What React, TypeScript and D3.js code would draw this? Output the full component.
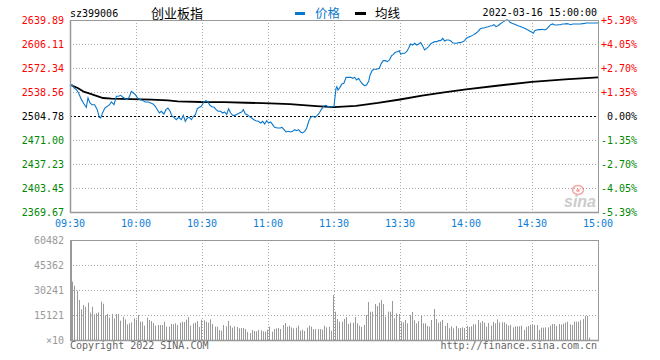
import React from 'react';
import * as d3 from 'd3';

const stockCode = 'sz399006';
const stockName = '创业板指';
const legendPrice = '价格';
const legendAvg = '均线';
const dateText = '2022-03-16 15:00:00';
const copyrightText = 'Copyright 2022 SINA.COM';
const urlText = 'http://finance.sina.com.cn';

const priceMin = 2369.67;
const priceMax = 2639.89;
const priceTickLabels = ['2639.89', '2606.11', '2572.34', '2538.56', '2504.78', '2471.00', '2437.23', '2403.45', '2369.67'];
const pctTickLabels = ['+5.39%', '+4.05%', '+2.70%', '+1.35%', '0.00%', '-1.35%', '-2.70%', '-4.05%', '-5.39%'];
const prevClose = 2504.78;

const timeTickLabels = ['09:30', '10:00', '10:30', '11:00', '11:30', '13:30', '14:00', '14:30', '15:00'];
const timeTickMinutes = [0, 30, 60, 90, 120, 150, 180, 210, 240];

const volMax = 60482;
const volTickLabels = ['60482', '45362', '30241', '15121', '×10'];

// [minute offset from 09:30 on the trading clock, price]
const pricePoints: [number, number][] = [
  [0, 2546.5], [0.9, 2548.9], [1.8, 2544.2], [2.9, 2541.8], [3.9, 2537.2], [5.2, 2527.8], [6.4, 2521.7], [7.4, 2517.0],
  [8.2, 2530.1], [9.1, 2523.1], [10.0, 2520.7], [11.2, 2520.7], [12.4, 2513.7], [13.3, 2502.9], [13.9, 2502.0], [14.8, 2509.0],
  [15.8, 2516.0], [17.0, 2518.4], [18.0, 2520.7], [18.8, 2524.5], [20.0, 2520.7], [21.1, 2532.5], [22.1, 2532.5], [23.0, 2533.9],
  [24.1, 2531.1], [25.2, 2529.2], [26.1, 2527.8], [27.1, 2532.5], [27.9, 2539.5], [28.8, 2537.2], [29.7, 2534.8], [30.9, 2529.2],
  [32.1, 2527.8], [33.2, 2526.4], [34.2, 2524.5], [35.5, 2524.5], [36.7, 2523.1], [37.7, 2521.7], [38.8, 2518.4], [39.7, 2513.7],
  [40.6, 2509.0], [41.5, 2511.4], [42.7, 2507.6], [43.6, 2513.7], [44.5, 2516.0], [45.5, 2511.4], [46.4, 2504.3], [47.3, 2502.9],
  [48.3, 2499.6], [49.4, 2502.9], [50.6, 2499.6], [51.5, 2505.7], [52.4, 2497.3], [53.3, 2502.0], [54.2, 2502.9], [55.2, 2499.6],
  [56.1, 2504.3], [57.0, 2506.7], [57.9, 2515.1], [58.8, 2517.0], [59.7, 2518.4], [60.9, 2524.5], [61.8, 2526.4], [62.7, 2524.5],
  [63.6, 2519.8], [64.5, 2517.9], [65.5, 2517.0], [66.4, 2513.7], [67.4, 2511.4], [68.5, 2511.4], [69.4, 2509.0], [70.3, 2510.4],
  [71.2, 2506.7], [72.1, 2515.1], [73.0, 2509.0], [74.0, 2505.7], [75.0, 2505.7], [76.1, 2507.6], [77.0, 2509.0], [78.0, 2510.4],
  [78.8, 2513.7], [79.7, 2507.6], [80.6, 2506.7], [81.5, 2504.3], [82.6, 2502.0], [83.6, 2499.6], [84.5, 2498.2], [85.6, 2497.3],
  [86.7, 2494.9], [87.6, 2497.3], [88.5, 2493.5], [89.4, 2498.2], [90.3, 2494.9], [91.2, 2496.3], [92.1, 2492.6], [93.0, 2488.8],
  [94.3, 2487.9], [95.5, 2487.9], [96.4, 2488.8], [97.3, 2485.5], [98.2, 2482.3], [99.2, 2483.2], [100.3, 2482.3], [101.2, 2483.2],
  [102.1, 2485.5], [103.0, 2484.1], [103.9, 2485.5], [104.8, 2482.3], [105.7, 2480.9], [106.7, 2483.2], [107.6, 2487.9], [108.5, 2497.3],
  [109.4, 2502.9], [110.3, 2504.3], [111.4, 2502.9], [112.4, 2505.7], [113.3, 2509.0], [114.2, 2513.7], [115.2, 2518.4], [116.1, 2519.8],
  [117.0, 2518.4], [118.2, 2517.9], [119.1, 2517.9], [120, 2518.4],
  [120.9, 2543.7], [121.3, 2546.1], [121.8, 2541.4], [122.7, 2545.1], [123.6, 2549.8], [124.5, 2550.8], [125.5, 2559.2], [126.5, 2559.2],
  [127.6, 2559.2], [128.5, 2557.8], [129.4, 2559.2], [130.3, 2555.4], [131.2, 2557.8], [132.1, 2553.1], [133.0, 2549.8], [133.9, 2547.5],
  [134.8, 2548.4], [135.8, 2554.1], [136.4, 2562.5], [137.3, 2568.6], [138.2, 2570.5], [139.4, 2570.5], [140.6, 2571.9], [141.5, 2578.9],
  [142.4, 2582.7], [143.3, 2582.7], [144.2, 2581.3], [145.2, 2583.6], [146.1, 2589.3], [147.0, 2591.6], [147.9, 2594.4], [148.8, 2595.3],
  [149.7, 2596.7], [150.3, 2591.6], [151.2, 2593.0], [152.1, 2593.0], [153.0, 2595.3], [153.9, 2600.0], [154.8, 2606.1], [155.8, 2604.7],
  [156.7, 2607.1], [157.6, 2604.7], [158.5, 2606.1], [159.4, 2608.0], [160.3, 2603.3], [161.2, 2597.7], [162.1, 2600.0], [163.0, 2602.4],
  [163.9, 2606.1], [164.8, 2608.0], [165.8, 2609.4], [166.7, 2609.4], [167.6, 2610.8], [168.5, 2610.8], [169.4, 2614.1], [170.3, 2610.4],
  [171.2, 2611.8], [172.1, 2611.8], [173.0, 2610.8], [173.9, 2608.0], [174.8, 2607.1], [175.8, 2607.1], [176.7, 2608.0], [177.6, 2608.0],
  [178.5, 2609.4], [179.4, 2610.8], [180.0, 2613.5], [180.9, 2615.5], [181.8, 2616.5], [182.7, 2617.9], [183.6, 2619.3], [184.5, 2621.2],
  [185.5, 2624.0], [186.4, 2627.2], [187.3, 2628.6], [188.2, 2628.6], [189.1, 2629.6], [190.0, 2630.5], [190.9, 2631.5], [191.8, 2631.9],
  [192.7, 2633.3], [193.6, 2630.5], [194.5, 2631.9], [195.5, 2634.3], [196.4, 2636.2], [197.3, 2638.0], [198.2, 2639.9], [199.1, 2639.9],
  [200.0, 2636.6], [200.9, 2635.2], [201.8, 2634.3], [202.7, 2633.3], [203.6, 2631.9], [204.5, 2631.0], [205.5, 2629.6], [206.4, 2628.6],
  [207.3, 2627.2], [208.2, 2625.8], [209.1, 2624.0], [210.0, 2622.6], [210.6, 2621.2], [211.2, 2624.9], [212.1, 2625.8], [213.0, 2626.3],
  [213.9, 2626.3], [214.8, 2626.8], [215.7, 2625.8], [216.7, 2627.2], [217.6, 2630.5], [218.5, 2633.3], [219.4, 2634.3], [220.3, 2632.9],
  [221.2, 2632.9], [222.1, 2633.3], [223.0, 2633.3], [223.9, 2634.3], [224.8, 2634.3], [225.7, 2634.8], [226.7, 2634.3], [227.6, 2633.3],
  [228.5, 2634.3], [229.4, 2634.3], [230.3, 2634.3], [231.2, 2634.3], [232.1, 2634.3], [233.0, 2634.8], [233.9, 2635.2], [234.8, 2635.7],
  [236.0, 2635.7], [238.0, 2635.7], [240, 2635.7],
];

const avgPoints: [number, number][] = [
  [0, 2548.8], [3.5, 2544.2], [6.5, 2538.6], [8, 2537.2], [12.7, 2532.5], [15, 2530.1], [18.8, 2529.1], [37, 2527.7],
  [44.5, 2526.9], [49, 2525.5], [59.5, 2524.5], [70, 2524.3], [80, 2523.4], [91, 2522.6], [100, 2521.6], [106, 2520.0],
  [112, 2518.6], [120, 2517.2], [130, 2519.1], [140, 2523.1], [150, 2528.0], [160, 2533.6], [170, 2537.9], [180, 2542.1],
  [195, 2547.7], [210, 2552.9], [225, 2556.2], [240, 2559.0],
];

// volume per minute (×10), from 09:31 onward
const volumes = [
  35280, 32861, 29837, 24192, 18547, 21168, 20160, 22579, 16531, 20160,
  15523, 16128, 16733, 23184, 21974, 14918, 15725, 13507, 15725, 13104,
  15725, 15725, 11693, 14112, 12499, 9475, 10080, 10685, 13104, 12298,
  15120, 11088, 11088, 8669, 13507, 12096, 11491, 10282, 8669, 9072,
  9072, 9072, 11088, 8064, 8064, 9677, 9475, 10080, 9072, 10483,
  11088, 10886, 12298, 13910, 8669, 10080, 10483, 11491, 7862, 12298,
  11894, 11088, 10483, 12499, 9677, 8064, 8064, 6048, 5645, 9072,
  8266, 11491, 8669, 7459, 8266, 7862, 7056, 7258, 7258, 6653,
  4838, 4234, 6048, 5443, 5242, 6048, 5846, 5242, 4838, 6250,
  8064, 5040, 6653, 7056, 7258, 6653, 9072, 10282, 8064, 8669,
  7661, 7056, 7459, 8669, 5645, 6250, 5443, 7459, 8669, 8064,
  6451, 6653, 6653, 6653, 6250, 8669, 7661, 8064, 5645,
  27216, 17136, 12701, 11088, 11088, 12701, 13910, 9677, 10483, 10483,
  13910, 10080, 8669, 7862, 9072, 15120, 22982, 17136, 17136, 21773,
  20563, 22579, 24192, 21773, 14112, 17136, 17136, 23587, 13104, 16128,
  15725, 11088, 10685, 12096, 10080, 15120, 16934, 11894, 10080, 11491,
  14515, 10080, 10080, 8467, 8064, 12096, 18749, 12701, 10483, 11088,
  12096, 8467, 10282, 7056, 8266, 7056, 8467, 7056, 7258, 7661,
  7258, 8467, 7862, 8266, 9475, 9475, 12096, 10483, 11491, 10483,
  8064, 10282, 8669, 10886, 10080, 12499, 10685, 10685, 10685, 9677,
  8669, 9072, 7661, 8266, 8266, 8266, 8669, 6048, 7862, 8467,
  9072, 9072, 9072, 9072, 6048, 7459, 7459, 7661, 7661, 8669,
  9677, 9677, 8467, 9677, 9274, 9878, 10483, 11088, 9475, 9072,
  11088, 11088, 11088, 11894, 12701, 14515, 14515, 1411,
];

const L = 70, R = 598, T = 20, B = 212;
const VT = 240, VB = 340;
const MONO = '"DejaVu Sans Mono", "Liberation Mono", monospace';
const CJK = '"Noto Sans CJK SC", sans-serif';
const BLUE = '#0a78cc';
const TIME_BLUE = '#0a7dd6';
const GRID = '#aaa';
const BORDER = '#999';

export default function App() {
  const x = d3.scaleLinear().domain([0, 241]).range([L, R]);
  const xt = d3.scaleLinear().domain([0, 240]).range([L, R]);
  const y = d3.scaleLinear().domain([priceMin, priceMax]).range([B, T]);
  const yIdx = d3.scaleLinear().domain([0, priceTickLabels.length - 1]).range([T, B]);
  const vy = d3.scaleLinear().domain([0, volMax]).range([VB, VT]);
  const vIdx = d3.scaleLinear().domain([0, volTickLabels.length - 1]).range([VT, VB]);

  const line = d3.line<[number, number]>().x((d) => xt(d[0])).y((d) => y(d[1]));

  const tickColor = (i: number) => (i < 4 ? '#f00' : i === 4 ? '#000' : '#080');

  return (
    <svg width={660} height={360} style={{ position: 'absolute', left: 0, top: 0, background: '#fff' }}>
      <rect x={0} y={0} width={660} height={360} fill="#fff" />
      {/* header */}
      <text x={70} y={17} fontFamily={MONO} fontSize={10} fill="#000">{stockCode}</text>
      <text x={151} y={18} fontFamily={CJK} fontSize={13} fill="#000">{stockName}</text>
      <rect x={295} y={12} width={10} height={3} fill={BLUE} />
      <text x={315} y={18} fontFamily={CJK} fontSize={12.5} fill={BLUE}>{legendPrice}</text>
      <rect x={355} y={12} width={11} height={3} fill="#000" />
      <text x={375} y={18} fontFamily={CJK} fontSize={12.5} fill="#000">{legendAvg}</text>
      <text x={597} y={16} textAnchor="end" fontFamily={MONO} fontSize={10} fill="#000">{dateText}</text>

      {/* main grid */}
      {priceTickLabels.map((_, i) =>
        i > 0 && i < priceTickLabels.length - 1 && i !== 4 ? (
          <line key={'hg' + i} x1={L} x2={R} y1={yIdx(i) + 0.5} y2={yIdx(i) + 0.5} stroke={GRID} strokeDasharray="1,2" />
        ) : null
      )}
      {timeTickMinutes.slice(1, -1).map((m) => (
        <line key={'vg' + m} x1={Math.round(xt(m)) + 0.5} x2={Math.round(xt(m)) + 0.5} y1={T} y2={B} stroke={GRID} strokeDasharray="1,2" />
      ))}
      <line x1={L} x2={R} y1={Math.round(y(prevClose)) + 0.5} y2={Math.round(y(prevClose)) + 0.5} stroke="#000" strokeDasharray="2,2" />

      {/* sina logo */}
      <g opacity={0.5}>
        <ellipse cx={578} cy={190} rx={5.5} ry={4.5} fill="none" stroke="#e55" strokeWidth={1.6} />
        <circle cx={578} cy={190.5} r={1.8} fill="#e55" />
        <text x={564} y={207} fontFamily="Arial, Liberation Sans, sans-serif" fontStyle="italic" fontWeight="bold" fontSize={16} fill="#999">sina</text>
      </g>

      {/* lines */}
      <path d={line(avgPoints) || ''} fill="none" stroke="#000" strokeWidth={1.8} />
      <path d={line(pricePoints) || ''} fill="none" stroke={BLUE} strokeWidth={1.1} />

      <rect x={L + 0.5} y={T + 0.5} width={R - L} height={B - T} fill="none" stroke={BORDER} />
      <line x1={L + 0.5} x2={L + 0.5} y1={T} y2={B + 1} stroke={BORDER} strokeWidth={1.5} />
      <line x1={L} x2={R + 1} y1={B + 0.5} y2={B + 0.5} stroke={BORDER} strokeWidth={1.5} />

      {/* price labels */}
      {priceTickLabels.map((t, i) => (
        <text key={'pl' + i} x={64} y={yIdx(i) + 3.8} textAnchor="end" fontFamily={MONO} fontSize={10} fill={tickColor(i)}>{t}</text>
      ))}
      {pctTickLabels.map((t, i) => (
        <text key={'pc' + i} x={637} y={yIdx(i) + 3.8} textAnchor="end" fontFamily={MONO} fontSize={10} fill={tickColor(i)}>{t}</text>
      ))}
      {timeTickLabels.map((t, i) => (
        <text key={'tl' + i} x={xt(timeTickMinutes[i])} y={227} textAnchor="middle" fontFamily={MONO} fontSize={10} fill={TIME_BLUE}>{t}</text>
      ))}

      {/* volume grid */}
      {volTickLabels.map((_, i) =>
        i > 0 && i < volTickLabels.length - 1 ? (
          <line key={'vh' + i} x1={L} x2={R} y1={vIdx(i) + 0.5} y2={vIdx(i) + 0.5} stroke={GRID} strokeDasharray="1,2" />
        ) : null
      )}
      {timeTickMinutes.slice(1, -1).map((m) => (
        <line key={'vv' + m} x1={Math.round(xt(m)) + 0.5} x2={Math.round(xt(m)) + 0.5} y1={VT} y2={VB} stroke={GRID} strokeDasharray="1,2" />
      ))}
      {volumes.map((v, i) => (
        <rect key={'vb' + i} x={Math.round(x(i + 1))} y={vy(v)} width={1} height={VB - vy(v)} fill="#999" />
      ))}
      <rect x={L + 0.5} y={VT + 0.5} width={R - L} height={VB - VT} fill="none" stroke={BORDER} />
      <line x1={L + 1} x2={L + 1} y1={VT} y2={VB + 1} stroke={BORDER} strokeWidth={2} />
      <line x1={L} x2={R + 1} y1={VB + 0.5} y2={VB + 0.5} stroke={BORDER} strokeWidth={1.5} />
      {volTickLabels.map((t, i) => (
        <text key={'vl' + i} x={64} y={vIdx(i) + 3.8} textAnchor="end" fontFamily={MONO} fontSize={10} fill="#999">{t}</text>
      ))}

      {/* footer */}
      <text x={70} y={349} fontFamily={MONO} fontSize={10} fill="#666">{copyrightText}</text>
      <text x={597} y={349} textAnchor="end" fontFamily={MONO} fontSize={10} fill="#666">{urlText}</text>
    </svg>
  );
}
